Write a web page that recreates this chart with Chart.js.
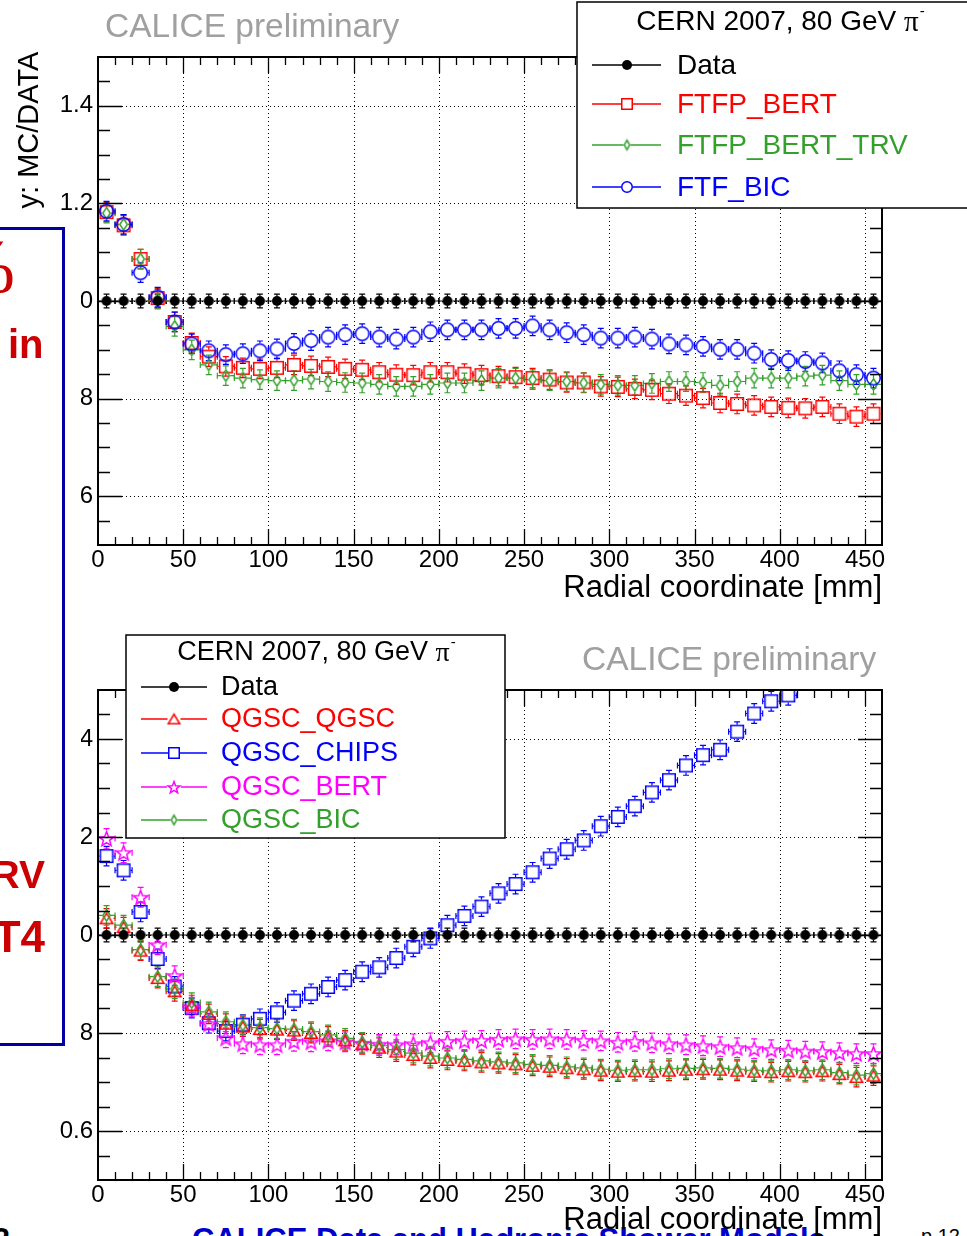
<!DOCTYPE html>
<html>
<head>
<meta charset="utf-8">
<script src="https://cdn.jsdelivr.net/npm/chart.js@4.4.1/dist/chart.umd.min.js"></script>
<style>
  html, body { margin: 0; padding: 0; background: #fff; }
  body { width: 967px; height: 1236px; position: relative; overflow: hidden; font-family: "Liberation Sans", Arial, sans-serif; }
  .abs { position: absolute; white-space: nowrap; line-height: 1; }
  canvas { position: absolute; left: 0; }
  #topChart { top: 0; }
  #bottomChart { top: 608px; }
  .prelim { color: #a0a0a0; font-size: 33.5px; }
  .slideRed { color: #cc0000; font-weight: bold; }
  #slideBox { position: absolute; left: -10px; top: 227px; width: 69px; height: 813px; background: #fff; border: 3px solid #0000a0; }
  #slideStrip { position: absolute; left: 65px; top: 227px; width: 16px; height: 819px; background: #fff; }
  #yTitle { position: absolute; left: -72px; top: 115px; width: 200px; height: 30px; line-height: 30px; text-align: center; font-size: 29px; transform: rotate(-90deg); }
</style>
</head>
<body>
<div class="abs" style="right: 957px; top: 1224px; font-size: 31px; font-weight: bold;">2</div>
<div class="abs" style="left: 192px; top: 1224px; font-size: 31px; font-weight: bold; color: #0000cc;">CALICE Data and Hadronic Shower Models</div>
<div class="abs" style="left: 921px; top: 1226px; font-size: 20px;">p.12</div>

<canvas id="topChart" width="967" height="608"></canvas>
<canvas id="bottomChart" width="967" height="628"></canvas>

<div id="yTitle">y: MC/DATA</div>
<div id="slideBox"></div>
<div id="slideStrip"></div>
<div class="abs" style="right: 952px; top: 228px; font-size: 76px; color: #cc0000; font-family: 'Liberation Serif', serif;">%</div>
<div class="abs slideRed" style="left: 8px; top: 324px; font-size: 40px;">in</div>
<div class="abs slideRed" style="right: 922px; top: 855px; font-size: 39px;">RV</div>
<div class="abs slideRed" style="right: 922px; top: 915px; font-size: 44px;">T4</div>

<div class="abs prelim" style="left: 105px; top: 9px;">CALICE preliminary</div>
<div class="abs prelim" style="left: 582px; top: 642px;">CALICE preliminary</div>

<script>
// bin centres of the radial profile [mm]
const RADIUS = [5, 15, 25, 35, 45, 55, 65, 75, 85, 95, 105, 115, 125, 135, 145, 155, 165, 175, 185, 195,
  205, 215, 225, 235, 245, 255, 265, 275, 285, 295, 305, 315, 325, 335, 345, 355, 365, 375, 385, 395,
  405, 415, 425, 435, 445, 455];
const X_TICKS = [0, 50, 100, 150, 200, 250, 300, 350, 400, 450];
const Y_TICKS = [0.6, 0.8, 1.0, 1.2, 1.4];
const BIN_HALF = 5;

// ratio MC/DATA, upper panel
const dataTop = [1, 1, 1, 1, 1, 1, 1, 1, 1, 1, 1, 1, 1, 1, 1, 1, 1, 1, 1, 1, 1, 1, 1,
  1, 1, 1, 1, 1, 1, 1, 1, 1, 1, 1, 1, 1, 1, 1, 1, 1, 1, 1, 1, 1, 1, 1];
const ftfpBert = [1.182, 1.155, 1.086, 1.006, 0.957, 0.914, 0.886, 0.866, 0.863, 0.861,
  0.863, 0.869, 0.867, 0.865, 0.861, 0.859, 0.854, 0.849, 0.848, 0.854,
  0.854, 0.851, 0.848, 0.846, 0.844, 0.842, 0.839, 0.833, 0.833, 0.825,
  0.824, 0.820, 0.818, 0.810, 0.806, 0.801, 0.791, 0.789, 0.786, 0.783,
  0.781, 0.780, 0.783, 0.769, 0.763, 0.769];
const ftfpBertTrv = [1.180, 1.157, 1.086, 1.004, 0.948, 0.900, 0.869, 0.847, 0.842, 0.839,
  0.837, 0.837, 0.840, 0.835, 0.833, 0.832, 0.829, 0.825, 0.825, 0.829,
  0.832, 0.832, 0.837, 0.842, 0.842, 0.839, 0.837, 0.835, 0.832, 0.829,
  0.827, 0.827, 0.831, 0.835, 0.835, 0.833, 0.827, 0.835, 0.842, 0.842,
  0.842, 0.846, 0.848, 0.837, 0.829, 0.829];
const ftfBic = [1.184, 1.157, 1.058, 1.008, 0.957, 0.912, 0.898, 0.890, 0.892, 0.898,
  0.902, 0.913, 0.919, 0.926, 0.931, 0.933, 0.926, 0.922, 0.926, 0.937,
  0.941, 0.941, 0.941, 0.944, 0.944, 0.949, 0.941, 0.935, 0.931, 0.924,
  0.924, 0.926, 0.922, 0.912, 0.910, 0.907, 0.901, 0.901, 0.893, 0.880,
  0.878, 0.876, 0.873, 0.857, 0.849, 0.842];

// ratio MC/DATA, lower panel
const dataBottom = [1, 1, 1, 1, 1, 1, 1, 1, 1, 1, 1, 1, 1, 1, 1, 1, 1, 1, 1, 1, 1, 1, 1,
  1, 1, 1, 1, 1, 1, 1, 1, 1, 1, 1, 1, 1, 1, 1, 1, 1, 1, 1, 1, 1, 1, 1];
const qgscQgsc = [1.034, 1.016, 0.968, 0.912, 0.885, 0.857, 0.839, 0.819, 0.813, 0.808,
  0.807, 0.805, 0.800, 0.793, 0.785, 0.777, 0.770, 0.762, 0.755, 0.749,
  0.745, 0.743, 0.740, 0.738, 0.736, 0.733, 0.731, 0.728, 0.726, 0.723,
  0.721, 0.722, 0.721, 0.723, 0.725, 0.726, 0.725, 0.723, 0.721, 0.720,
  0.722, 0.720, 0.722, 0.716, 0.710, 0.713];
const qgscChips = [1.161, 1.132, 1.047, 0.951, 0.895, 0.851, 0.820, 0.804, 0.817, 0.829,
  0.842, 0.866, 0.880, 0.894, 0.908, 0.925, 0.934, 0.953, 0.976, 0.993,
  1.020, 1.039, 1.058, 1.085, 1.104, 1.128, 1.156, 1.175, 1.193, 1.222,
  1.241, 1.263, 1.291, 1.316, 1.346, 1.367, 1.378, 1.415, 1.452, 1.477,
  1.489, 1.530, 1.560, 1.580, 1.610, 1.630];
const qgscBert = [1.197, 1.168, 1.077, 0.980, 0.917, 0.853, 0.819, 0.790, 0.778, 0.776,
  0.776, 0.783, 0.782, 0.784, 0.782, 0.779, 0.777, 0.776, 0.778, 0.780,
  0.783, 0.784, 0.785, 0.787, 0.788, 0.787, 0.788, 0.787, 0.785, 0.784,
  0.781, 0.783, 0.780, 0.778, 0.776, 0.774, 0.772, 0.770, 0.768, 0.766,
  0.765, 0.763, 0.762, 0.760, 0.758, 0.758];
const qgscBic = [1.040, 1.020, 0.970, 0.915, 0.890, 0.862, 0.843, 0.823, 0.816, 0.811,
  0.809, 0.808, 0.803, 0.796, 0.789, 0.781, 0.774, 0.766, 0.759, 0.753,
  0.749, 0.746, 0.743, 0.741, 0.739, 0.736, 0.734, 0.731, 0.729, 0.726,
  0.724, 0.725, 0.725, 0.727, 0.728, 0.729, 0.728, 0.726, 0.724, 0.723,
  0.725, 0.723, 0.725, 0.719, 0.714, 0.717];

const BLACK = '#000000';
const RED = '#ff0000';
const GREEN = '#34a02c';
const BLUE = '#0000ff';
const MAGENTA = '#ff00ff';
const FONT = '"Liberation Sans", Arial, sans-serif';
const CAP = 3;

// small canvases used as point styles (ROOT-like open markers)
function marker(shape, color, w, h) {
    const c = document.createElement('canvas');
    c.width = Math.ceil(w) + 4;
    c.height = Math.ceil(h) + 4;
    const g = c.getContext('2d');
    const cx = c.width / 2, cy = c.height / 2;
    g.strokeStyle = color;
    g.fillStyle = color;
    g.lineWidth = 1.5;
    g.beginPath();
    if (shape === 'dot') {
        g.arc(cx, cy, w / 2, 0, Math.PI * 2);
        g.fill();
        return c;
    }
    if (shape === 'circle') {
        g.arc(cx, cy, w / 2 - 0.75, 0, Math.PI * 2);
    } else if (shape === 'square') {
        g.rect(cx - w / 2 + 0.75, cy - h / 2 + 0.75, w - 1.5, h - 1.5);
    } else if (shape === 'diamond') {
        g.moveTo(cx, cy - h / 2 + 0.75);
        g.lineTo(cx + w / 2 - 0.75, cy);
        g.lineTo(cx, cy + h / 2 - 0.75);
        g.lineTo(cx - w / 2 + 0.75, cy);
        g.closePath();
    } else if (shape === 'triangle') {
        g.moveTo(cx, cy - h / 2 + 0.75);
        g.lineTo(cx + w / 2 - 0.75, cy + h / 2 - 0.75);
        g.lineTo(cx - w / 2 + 0.75, cy + h / 2 - 0.75);
        g.closePath();
    } else if (shape === 'star') {
        const ro = w / 2 - 0.75, ri = ro * 0.42;
        for (let k = 0; k < 10; k++) {
            const r = k % 2 ? ri : ro;
            const a = -Math.PI / 2 + k * Math.PI / 5;
            const px = cx + r * Math.cos(a), py = cy + r * Math.sin(a) + 0.8;
            k ? g.lineTo(px, py) : g.moveTo(px, py);
        }
        g.closePath();
    }
    g.stroke();
    return c;
}

function series(label, values, color, shape, w, h, lw, lh, errY, order) {
    return {
        label: label,
        data: RADIUS.map((r, i) => ({ x: r, y: values[i] })),
        borderColor: color,
        backgroundColor: color,
        pointStyle: marker(shape, color, w, h),
        legendMarker: marker(shape, color, lw, lh),
        textColor: color,
        gapX: w / 2,
        gapY: h / 2,
        errY: errY,
        order: order
    };
}

function drawGrid(chart) {
    const { ctx, chartArea: a, scales: { x, y } } = chart;
    ctx.save();
    ctx.strokeStyle = '#000';
    ctx.lineWidth = 1;
    ctx.setLineDash([1, 3]);
    ctx.beginPath();
    X_TICKS.forEach(v => {
        if (v === 0) return;
        const px = Math.round(x.getPixelForValue(v)) + 0.5;
        ctx.moveTo(px, a.top);
        ctx.lineTo(px, a.bottom);
    });
    Y_TICKS.forEach(v => {
        const py = Math.round(y.getPixelForValue(v)) + 0.5;
        ctx.moveTo(a.left, py);
        ctx.lineTo(a.right, py);
    });
    ctx.stroke();
    ctx.restore();
}

function drawErrorBars(chart) {
    const { ctx, chartArea: a, scales: { x, y } } = chart;
    ctx.save();
    ctx.beginPath();
    ctx.rect(a.left, a.top, a.right - a.left, a.bottom - a.top);
    ctx.clip();
    ctx.lineWidth = 1.2;
    chart.data.datasets.forEach(ds => {
        ctx.strokeStyle = ds.borderColor;
        ds.data.forEach(p => {
            const px = x.getPixelForValue(p.x);
            const py = y.getPixelForValue(p.y);
            const x0 = x.getPixelForValue(p.x - BIN_HALF);
            const x1 = x.getPixelForValue(p.x + BIN_HALF);
            const y0 = y.getPixelForValue(p.y + ds.errY);
            const y1 = y.getPixelForValue(p.y - ds.errY);
            ctx.beginPath();
            ctx.moveTo(x0, py); ctx.lineTo(px - ds.gapX, py);
            ctx.moveTo(px + ds.gapX, py); ctx.lineTo(x1, py);
            ctx.moveTo(x0, py - CAP); ctx.lineTo(x0, py + CAP);
            ctx.moveTo(x1, py - CAP); ctx.lineTo(x1, py + CAP);
            if (py - y0 > ds.gapY) {
                ctx.moveTo(px, y0); ctx.lineTo(px, py - ds.gapY);
                ctx.moveTo(px, py + ds.gapY); ctx.lineTo(px, y1);
                ctx.moveTo(px - CAP, y0); ctx.lineTo(px + CAP, y0);
                ctx.moveTo(px - CAP, y1); ctx.lineTo(px + CAP, y1);
            }
            ctx.stroke();
        });
    });
    ctx.restore();
}

// frame with inward ticks on all four sides
function drawFrame(chart) {
    const { ctx, chartArea: a, scales: { x, y } } = chart;
    ctx.save();
    ctx.strokeStyle = '#000';
    ctx.lineWidth = 1.3;
    ctx.beginPath();
    for (let v = 10; v < 460; v += 10) {
        const px = Math.round(x.getPixelForValue(v)) + 0.5;
        const len = v % 50 === 0 ? 16 : 8;
        ctx.moveTo(px, a.bottom); ctx.lineTo(px, a.bottom - len);
        ctx.moveTo(px, a.top); ctx.lineTo(px, a.top + len);
    }
    for (let k = 11; k < 30; k++) {
        const v = k * 0.05;
        const py = Math.round(y.getPixelForValue(v)) + 0.5;
        const len = k % 4 === 0 ? 24 : 12;
        ctx.moveTo(a.left, py); ctx.lineTo(a.left + len, py);
        ctx.moveTo(a.right, py); ctx.lineTo(a.right - len, py);
    }
    ctx.stroke();
    ctx.lineWidth = 2;
    ctx.strokeRect(a.left, a.top, a.right - a.left, a.bottom - a.top);
    ctx.restore();
}

function drawLegendTitle(ctx, cx, cy, size) {
    const main = 'CERN 2007, 80 GeV ';
    ctx.font = size + 'px ' + FONT;
    const w1 = ctx.measureText(main).width;
    ctx.font = (size + 1) + 'px "Liberation Serif", serif';
    const w2 = ctx.measureText('π').width;
    ctx.font = '15px ' + FONT;
    const w3 = ctx.measureText('-').width;
    let left = cx - (w1 + w2 + w3) / 2;
    ctx.fillStyle = '#000';
    ctx.textBaseline = 'middle';
    ctx.textAlign = 'left';
    ctx.font = size + 'px ' + FONT;
    ctx.fillText(main, left, cy);
    ctx.font = (size + 1) + 'px "Liberation Serif", serif';
    ctx.fillText('π', left + w1, cy + 1);
    ctx.font = '15px ' + FONT;
    ctx.fillText('-', left + w1 + w2 + 1, cy - 10);
}

function legendPlugin(cfg) {
    return {
        id: 'rootLegend',
        afterDraw(chart) {
            const ctx = chart.ctx;
            const [bx0, by0, bx1, by1] = cfg.box;
            ctx.save();
            ctx.fillStyle = '#fff';
            ctx.fillRect(bx0, by0, bx1 - bx0, by1 - by0);
            ctx.strokeStyle = '#000';
            ctx.lineWidth = 1.5;
            ctx.strokeRect(bx0, by0, bx1 - bx0, by1 - by0);
            drawLegendTitle(ctx, cfg.titleX, cfg.titleY, cfg.font);
            chart.data.datasets.forEach((ds, i) => {
                const ry = cfg.rows[i];
                ctx.strokeStyle = ds.borderColor;
                ctx.lineWidth = 1.5;
                ctx.beginPath();
                ctx.moveTo(cfg.line[0], ry);
                ctx.lineTo(cfg.line[1], ry);
                ctx.stroke();
                const m = ds.legendMarker;
                ctx.fillStyle = '#fff';
                if (ds.label !== 'Data') ctx.fillRect(cfg.markX - m.width / 2 + 2, ry - m.height / 2 + 2, m.width - 4, m.height - 4);
                ctx.drawImage(m, cfg.markX - m.width / 2, ry - m.height / 2);
                ctx.fillStyle = ds.textColor;
                ctx.font = cfg.font + 'px ' + FONT;
                ctx.textAlign = 'left';
                ctx.textBaseline = 'middle';
                ctx.fillText(ds.label, cfg.textX, ry + 1);
            });
            ctx.restore();
        }
    };
}

const panelPlugin = {
    id: 'rootPanel',
    beforeDatasetsDraw(chart) {
        drawGrid(chart);
        drawErrorBars(chart);
    },
    afterDatasetsDraw(chart) {
        drawFrame(chart);
    }
};

function makeChart(id, datasets, padTop, axisHeight, titlePad, legendCfg) {
    return new Chart(document.getElementById(id), {
        type: 'scatter',
        data: { datasets: datasets },
        options: {
            responsive: false,
            animation: false,
            devicePixelRatio: 1,
            layout: { padding: { left: 0, right: 85, top: padTop, bottom: 0 } },
            plugins: { legend: { display: false }, tooltip: { enabled: false } },
            scales: {
                x: {
                    type: 'linear',
                    min: 0,
                    max: 460,
                    afterBuildTicks: s => { s.ticks = X_TICKS.map(v => ({ value: v })); },
                    afterFit: s => { s.height = axisHeight; },
                    grid: { display: false, drawTicks: false },
                    border: { display: false },
                    ticks: { color: '#000', font: { family: FONT, size: 24 }, padding: 1, maxRotation: 0, autoSkip: false, callback: v => String(v) },
                    title: {
                        display: true,
                        text: 'Radial coordinate [mm]',
                        align: 'end',
                        color: '#000',
                        font: { family: FONT, size: 31, lineHeight: 1 },
                        padding: { top: 0, bottom: titlePad }
                    }
                },
                y: {
                    type: 'linear',
                    min: 0.5,
                    max: 1.5,
                    afterBuildTicks: s => { s.ticks = Y_TICKS.map(v => ({ value: v })); },
                    afterFit: s => { s.width = 98; },
                    grid: { display: false, drawTicks: false },
                    border: { display: false },
                    ticks: { color: '#000', font: { family: FONT, size: 24 }, padding: 5, callback: v => v.toFixed(1) }
                }
            }
        },
        plugins: [panelPlugin, legendPlugin(legendCfg)]
    });
}

// --- UPPER PANEL: FTF based physics lists ---
makeChart('topChart', [
    series('Data', dataTop, BLACK, 'dot', 10, 10, 10, 10, 0.014, 0),
    series('FTFP_BERT', ftfpBert, RED, 'square', 14, 14, 12, 12, 0.02, 3),
    series('FTFP_BERT_TRV', ftfpBertTrv, GREEN, 'diamond', 9, 13, 7, 11, 0.02, 2),
    series('FTF_BIC', ftfBic, BLUE, 'circle', 15, 15, 12, 12, 0.02, 1)
], 57, 63, 4, {
    box: [577, 2, 985, 208],
    titleX: 780, titleY: 22, font: 28,
    rows: [65, 104, 145, 187],
    line: [592, 661], markX: 627, textX: 677
});

// --- LOWER PANEL: QGS based physics lists ---
makeChart('bottomChart', [
    series('Data', dataBottom, BLACK, 'dot', 10, 10, 10, 10, 0.014, 0),
    series('QGSC_QGSC', qgscQgsc, RED, 'triangle', 14, 12, 13, 11, 0.02, 2),
    series('QGSC_CHIPS', qgscChips, BLUE, 'square', 14, 14, 12, 12, 0.02, 4),
    series('QGSC_BERT', qgscBert, MAGENTA, 'star', 17, 17, 14, 14, 0.02, 3),
    series('QGSC_BIC', qgscBic, GREEN, 'diamond', 9, 13, 7, 11, 0.02, 1)
], 82, 56, 0, {
    box: [126, 27, 505, 230],
    titleX: 316, titleY: 45, font: 27,
    rows: [79, 111, 145, 179, 212],
    line: [141, 207], markX: 174, textX: 221
});
</script>
</body>
</html>
